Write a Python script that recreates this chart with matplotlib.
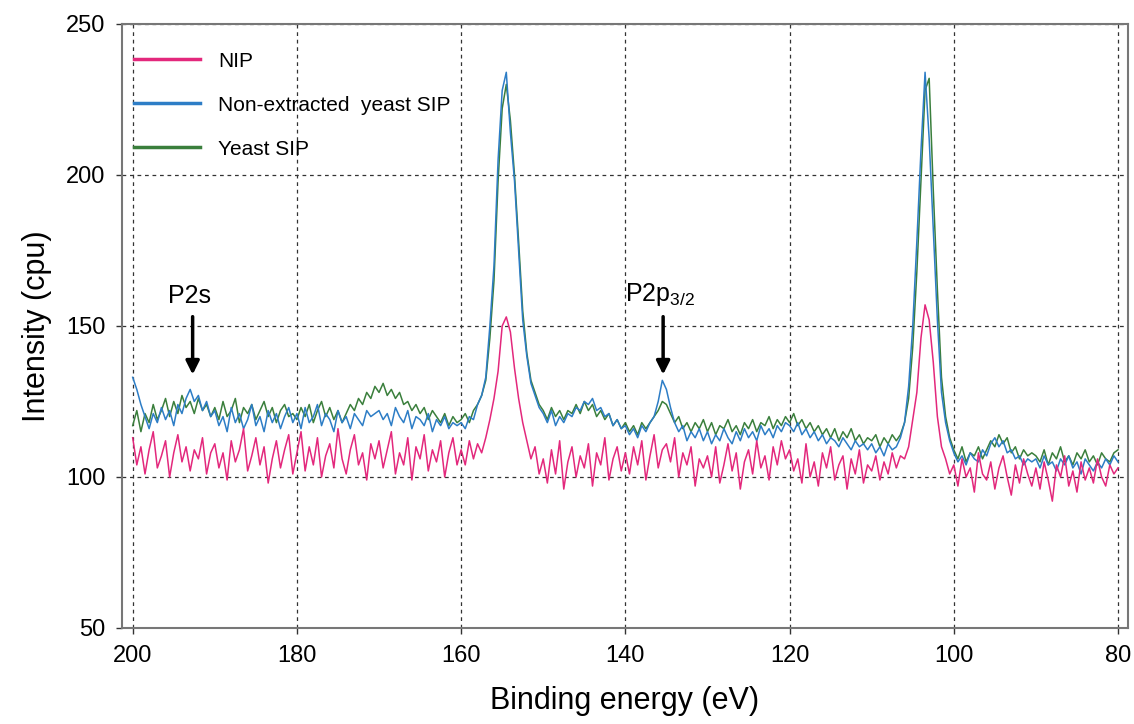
import numpy as np
import matplotlib
matplotlib.use("Agg")
import matplotlib.pyplot as plt

plt.rcParams["font.family"] = ["Liberation Sans", "DejaVu Sans"]

# Energieraster: 200 -> 80 eV, Schritt 0.5 eV (241 Punkte)
energy = np.linspace(200, 80, 241)

# NIP (pink), Werte je 10 eV pro Zeile
nip = [
    113, 104, 110, 101, 109, 115, 103, 107, 112, 100, 108, 114, 105, 110, 102, 109, 106, 113, 101, 108,
    111, 103, 108, 99, 112, 105, 109, 116, 102, 107, 113, 104, 110, 98, 106, 112, 103, 109, 114, 101,
    108, 115, 102, 110, 104, 113, 100, 107, 111, 103, 116, 106, 101, 109, 114, 104, 108, 99, 111, 106,
    112, 103, 109, 115, 101, 108, 104, 113, 99, 110, 106, 114, 102, 109, 105, 112, 100, 108, 113, 104,
    109, 104, 112, 106, 111, 108, 113, 119, 126, 135, 150, 153, 148, 136, 126, 118, 112, 106, 110, 101,
    106, 98, 109, 101, 112, 96, 105, 110, 100, 107, 103, 111, 97, 108, 104, 113, 99, 106, 110, 102,
    108, 101, 110, 104, 112, 99, 107, 114, 103, 109, 111, 105, 113, 100, 108, 104, 110, 97, 106, 103,
    107, 100, 110, 98, 104, 111, 102, 108, 96, 105, 109, 101, 112, 103, 107, 99, 110, 104, 112, 106,
    109, 102, 106, 98, 111, 100, 105, 97, 108, 103, 110, 99, 104, 107, 96, 106, 101, 109, 98, 104,
    102, 107, 99, 105, 101, 108, 103, 107, 106, 110, 119, 128, 146, 157, 152, 138, 120, 110, 106, 101,
    104, 97, 106, 100, 103, 95, 108, 101, 99, 105, 96, 103, 107, 100, 94, 104, 98, 106, 101, 97,
    103, 96, 105, 99, 92, 104, 100, 107, 97, 102, 95, 105, 99, 103, 98, 106, 100, 97, 104, 101,
    103,
]

# Non-extracted yeast SIP (blau)
non_extracted = [
    133, 129, 124, 120, 116, 121, 118, 123, 119, 122, 117, 124, 121, 126, 129, 125, 127, 122, 125, 120,
    122, 117, 120, 115, 123, 118, 121, 116, 119, 124, 117, 120, 115, 122, 118, 121, 116, 120, 123, 118,
    121, 116, 123, 118, 120, 124, 117, 121, 119, 115, 122, 118, 120, 116, 121, 119, 117, 122, 120, 121,
    122, 119, 121, 117, 123, 120, 118, 122, 116, 120, 119, 117, 121, 115, 119, 117, 120, 116, 118, 117,
    118, 116, 120, 119, 124, 127, 133, 150, 170, 205, 228, 234, 214, 198, 175, 152, 140, 131, 127, 123,
    121, 118, 122, 117, 120, 118, 121, 120, 123, 122, 125, 124, 126, 122, 123, 120, 121, 117, 119, 116,
    117, 114, 116, 113, 117, 115, 118, 120, 125, 132, 129, 123, 118, 115, 117, 112, 115, 113, 116, 112,
    115, 111, 114, 112, 116, 113, 111, 115, 112, 116, 113, 115, 112, 117, 114, 116, 113, 117, 115, 118,
    117, 115, 118, 114, 116, 113, 115, 112, 114, 111, 113, 112, 110, 113, 111, 109, 112, 110, 111, 109,
    111, 108, 110, 107, 111, 109, 110, 113, 118, 130, 150, 178, 208, 234, 212, 182, 152, 128, 118, 112,
    108, 105, 107, 104, 108, 106, 105, 109, 107, 111, 113, 110, 112, 108, 109, 106, 107, 104, 106, 105,
    106, 103, 107, 104, 105, 102, 106, 104, 107, 103, 105, 101, 106, 104, 102, 105, 103, 106, 104, 107,
    105,
]

# Yeast SIP (gruen)
yeast_sip = [
    117, 122, 115, 121, 118, 124, 119, 122, 126, 120, 125, 121, 127, 123, 125, 121, 126, 122, 124, 120,
    123, 119, 125, 120, 122, 126, 118, 123, 121, 124, 119, 122, 125, 120, 123, 118, 122, 124, 120, 121,
    119, 123, 120, 124, 118, 122, 125, 120, 123, 119, 122, 118, 121, 124, 122, 126, 124, 128, 126, 130,
    128, 131, 127, 129, 126, 128, 124, 125, 122, 124, 121, 123, 119, 122, 120, 118, 121, 117, 120, 118,
    119, 121, 118, 122, 124, 127, 132, 146, 165, 198, 222, 230, 218, 200, 178, 155, 141, 132, 128, 124,
    122, 119, 123, 120, 122, 119, 122, 121, 124, 121, 125, 122, 124, 120, 122, 119, 121, 117, 119, 116,
    118, 115, 117, 114, 118, 116, 118, 120, 122, 125, 124, 121, 118, 120, 116, 118, 115, 118, 116, 119,
    115, 118, 114, 117, 116, 119, 115, 117, 114, 118, 116, 119, 115, 118, 117, 120, 116, 119, 117, 120,
    118, 121, 117, 119, 116, 118, 115, 117, 114, 116, 113, 116, 112, 115, 113, 116, 112, 114, 111, 113,
    112, 114, 110, 113, 111, 114, 112, 114, 118, 126, 143, 168, 198, 228, 232, 195, 162, 133, 120, 113,
    109, 106, 110, 105, 108, 107, 110, 106, 109, 112, 110, 114, 111, 113, 108, 110, 106, 109, 107, 108,
    107, 105, 109, 104, 108, 106, 110, 105, 107, 104, 108, 106, 109, 105, 107, 104, 108, 106, 105, 108,
    109,
]

series_labels = ["NIP", "Non-extracted  yeast SIP", "Yeast SIP"]
series_colors = ["#e3287c", "#2d7dc6", "#3a7f3c"]

peak_labels = ["P2s", r"P2p$_{\mathregular{3/2}}$"]
peak_pos = [192.7, 135.4]

x_ticks = [200, 180, 160, 140, 120, 100, 80]
y_ticks = [50, 100, 150, 200, 250]

fig = plt.figure(figsize=(11.34, 7.24), dpi=100)
ax = fig.add_axes([0.1076, 0.1326, 0.887, 0.8343])

l_green, = ax.plot(energy, yeast_sip, color=series_colors[2], lw=1.1, zorder=3)
l_blue, = ax.plot(energy, non_extracted, color=series_colors[1], lw=1.1, zorder=4)
l_pink, = ax.plot(energy, nip, color=series_colors[0], lw=1.1, zorder=5)

ax.set_xlim(201.3, 78.8)
ax.set_ylim(50, 250)
ax.set_xticks(x_ticks)
ax.set_yticks(y_ticks)
ax.tick_params(labelsize=17, length=4, width=1, colors="#333333", pad=8)
ax.tick_params(labelcolor="black")
ax.grid(True, color="#333333", lw=0.9, linestyle=(0, (3, 3)))

for s in ax.spines.values():
    s.set_color("#777777")
    s.set_linewidth(1.5)

ax.set_xlabel("Binding energy (eV)", fontsize=22, labelpad=14)
ax.set_ylabel("Intensity (cpu)", fontsize=22, labelpad=10)

# Pfeile fuer die Peaks
for lab, pos in zip(peak_labels, peak_pos):
    ax.annotate("", xy=(pos, 133), xytext=(pos, 154),
                arrowprops=dict(arrowstyle="-|>", lw=2.5, color="black", mutation_scale=20),
                zorder=6)
    ax.text(pos + 0.4, 156, lab, fontsize=18, ha="center", va="bottom", zorder=6)

leg = ax.legend([l_pink, l_blue, l_green], series_labels, loc="upper left",
                bbox_to_anchor=(-0.007, 0.985), frameon=False, fontsize=15,
                handlelength=3.2, handletextpad=0.85, labelspacing=1.2)
for h in leg.legend_handles:
    h.set_linewidth(2.5)

fig.savefig("out.png", dpi=100)
